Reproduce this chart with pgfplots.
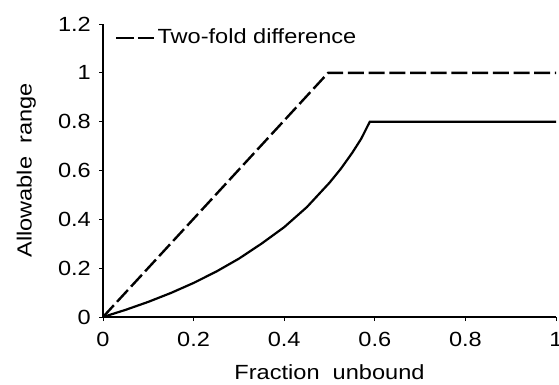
\documentclass[border=0pt]{standalone}
\usepackage{pgfplots}
\pgfplotsset{compat=1.18}
\usepackage{fontspec}
\setmainfont[FakeStretch=1.15]{Liberation Sans}
\begin{document}
\fontsize{20.5}{24}\selectfont
\begin{tikzpicture}[x=1pt,y=1pt]
\useasboundingbox (0,0) rectangle (559,384);
\begin{axis}[
  at={(103pt,67pt)}, anchor=south west,
  scale only axis, width=453pt, height=293pt,
  xmin=0, xmax=1, ymin=0, ymax=1.2,
  axis x line*=bottom, axis y line*=left,
  axis line style={line width=1.1pt, -},
  xtick={0,0.2,0.4,0.6,0.8,1},
  ytick={0,0.2,0.4,0.6,0.8,1,1.2},
  tick align=outside,
  major tick length=4pt,
  tick style={line width=1pt, black},
  /pgf/number format/assume math mode=true,
  tick label style={font=\fontsize{20.5}{24}\selectfont},
  xticklabel style={anchor=north, inner sep=0pt, yshift=-11pt},
  yticklabel style={anchor=east, inner sep=0pt, xshift=-8pt},
  xlabel={Fraction~~unbound},
  ylabel={Allowable~~range},
  label style={font=\fontsize{20.5}{24}\selectfont},
  xlabel style={at={(axis description cs:0.5,-0.215)}, anchor=base, inner sep=0pt},
  ylabel style={at={(axis description cs:-0.148,0.5)}, anchor=south, inner sep=0pt, rotate=0},
  legend style={draw=none, fill=none, at={(axis description cs:0.0265,0.952)}, anchor=west,
    inner xsep=0pt, inner ysep=0pt, cells={anchor=west},
    font=\fontsize{20.5}{24}\selectfont},
  legend image code/.code={\draw[#1, dash pattern=on 18pt off 3.5pt] (0pt,0pt) -- (38pt,0pt);},
]
\addplot[black, line width=2.4pt, dash pattern=on 16pt off 4.7pt, line join=miter] coordinates {
(0,0) (0.497,1) (1,1)
};
\addlegendentry{Two-fold difference}
\addplot[black, line width=2.2pt, line join=miter, forget plot] coordinates {
(0,0) (0.05,0.0294) (0.1,0.062) (0.15,0.0985) (0.2,0.1395) (0.25,0.186)
(0.3,0.239) (0.35,0.3005) (0.4,0.368) (0.45,0.450) (0.5,0.550)
(0.525,0.607) (0.55,0.672) (0.57,0.730) (0.589,0.8) (1,0.8)
};
\end{axis}
\end{tikzpicture}
\end{document}
